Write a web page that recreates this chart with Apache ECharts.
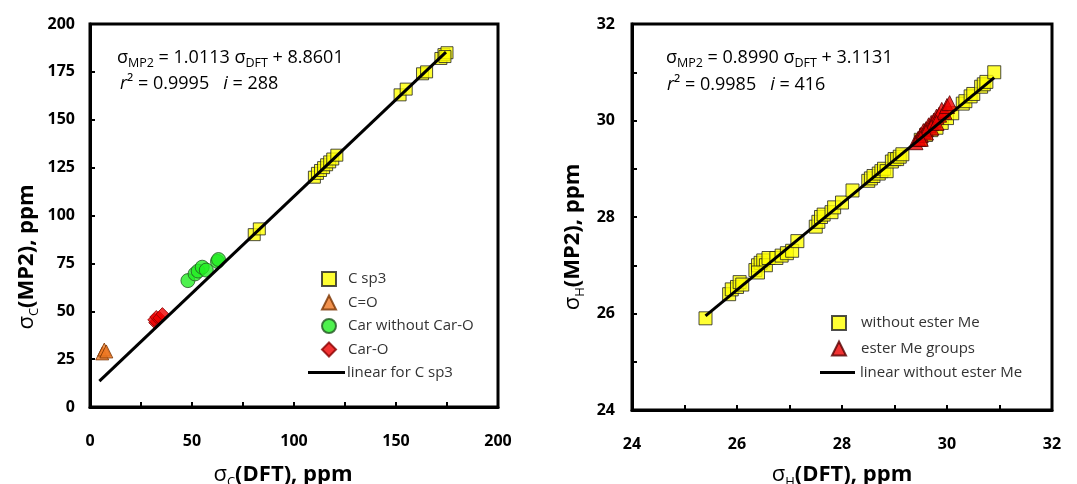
<!DOCTYPE html>
<html>
<head>
<meta charset="utf-8">
<script src="https://cdn.jsdelivr.net/npm/echarts@6/dist/echarts.min.js"></script>
<style>
  body { margin: 0; padding: 0; background: #fff; }
  #chart { width: 1077px; height: 484px; }
</style>
</head>
<body>
<div id="chart"></div>
<script>
// left panel: carbon shieldings, [DFT, MP2] in ppm
var cSp3 = [[80.5,90],[83,93],[110,120],[111.5,122],[113,123.5],[114.5,125],[116,126.5],[117.5,128],[119,129.5],[121,131.5],
  [152,163],[155,166],[163,174],[165,175],[172,182],[173.5,184],[175,185],[174,183]];
var cCO = [[6,28],[7,30],[8,29]];
var cArNoO = [[48,66],[51.5,69.5],[53,71],[55,73],[57,71.5],[62.5,76],[63,77]];
var cArO = [[32,44],[31.5,45.5],[32.5,47],[34,46.5],[35.5,48.5]];
var cFit = [[4.6,13.5],[174.5,185.3]];

// right panel: proton shieldings, [DFT, MP2] in ppm
var hNoEster = [[25.4,25.9],[25.85,26.4],[25.9,26.5],[26.0,26.55],[26.05,26.65],[26.1,26.6],
  [26.35,26.9],[26.4,27.0],[26.45,27.05],[26.5,27.1],[26.55,27.0],[26.6,27.15],[26.4,26.85],
  [26.75,27.15],[26.85,27.2],[26.95,27.25],[27.05,27.3],[27.15,27.5],[27.5,27.8],[27.55,27.9],
  [27.6,28.0],[27.65,28.05],[27.8,28.1],[27.85,28.2],[28.0,28.3],[28.2,28.55],[28.5,28.75],
  [28.55,28.8],[28.6,28.85],[28.7,28.9],[28.75,28.95],[28.8,29.0],[28.85,28.95],[28.95,29.15],
  [29.0,29.2],[29.05,29.2],[29.1,29.25],[29.15,29.3],[29.5,29.6],[29.6,29.7],[29.7,29.8],
  [29.8,29.85],[29.9,29.95],[30.0,30.05],[30.1,30.15],[30.3,30.35],[30.35,30.4],[30.45,30.5],
  [30.5,30.55],[30.65,30.7],[30.7,30.75],[30.75,30.8],[30.9,31.0]];
var hEster = [[29.4,29.55],[29.45,29.62],[29.5,29.7],[29.55,29.78],[29.6,29.82],[29.65,29.9],
  [29.7,29.95],[29.75,30.0],[29.8,30.08],[29.85,30.12],[29.9,30.22],[29.95,30.18],[30.0,30.3],
  [30.05,30.36],[29.7,29.85],[29.6,29.75],[29.8,29.95],[29.5,29.62]];
var hFit = [[25.4,25.95],[30.9,30.89]];

var fam = '"Open Sans", "Noto Sans", sans-serif';

function axisCommon(min, max, interval, minor) {
  return {
    type: 'value', min: min, max: max, interval: interval,
    axisLine: { lineStyle: { color: '#000', width: 3 } },
    axisTick: { inside: true, length: 5, lineStyle: { color: '#000', width: 2 } },
    minorTick: { show: minor, splitNumber: 2, length: 5, lineStyle: { color: '#000', width: 2 } },
    splitLine: { show: false },
    minorSplitLine: { show: false },
    axisLabel: { color: '#000', fontSize: 16, fontWeight: 'bold', fontFamily: fam }
  };
}

var nameRich = {
  s: { fontSize: 22, fontFamily: fam, color: '#000', lineHeight: 28 },
  sub: { fontSize: 13, fontFamily: fam, color: '#000', verticalAlign: 'bottom', lineHeight: 28 },
  n: { fontSize: 22, fontWeight: 'bold', fontFamily: fam, color: '#000', lineHeight: 28 }
};
var noteRich = {
  n: { fontSize: 18, fontFamily: fam, color: '#222', lineHeight: 24 },
  it: { fontSize: 18, fontFamily: fam, color: '#222', fontStyle: 'italic', lineHeight: 24 },
  sub: { fontSize: 12.5, fontFamily: fam, color: '#222', verticalAlign: 'bottom', lineHeight: 24 }
};

var x0 = axisCommon(0, 200, 50, true);
x0.gridIndex = 0; x0.axisLabel.margin = 26;
x0.name = '{s|σ}{sub|C}{n|(DFT), ppm}'; x0.nameLocation = 'middle'; x0.nameGap = 54;
x0.nameTextStyle = { rich: nameRich, padding: [0, 22, 0, 0] };
var y0 = axisCommon(0, 200, 25, false);
y0.gridIndex = 0; y0.axisLabel.margin = 15;
var x1 = axisCommon(24, 32, 2, true);
x1.gridIndex = 1; x1.axisLabel.margin = 26;
x1.name = '{s|σ}{sub|H}{n|(DFT), ppm}'; x1.nameLocation = 'middle'; x1.nameGap = 51;
x1.nameTextStyle = { rich: nameRich };
var y1 = axisCommon(24, 32, 2, true);
y1.gridIndex = 1; y1.axisLabel.margin = 17;

var legText = { fontSize: 15, fontFamily: fam, color: '#333' };

var chart = echarts.init(document.getElementById('chart'));
var option = {
  animation: false,
  backgroundColor: '#fff',
  grid: [
    { left: 90, top: 24, width: 408, height: 383, show: true, borderColor: '#000', borderWidth: 3, outerBoundsMode: 'none', containLabel: false },
    { left: 632, top: 24, width: 420, height: 386, show: true, borderColor: '#000', borderWidth: 3, outerBoundsMode: 'none', containLabel: false }
  ],
  xAxis: [x0, x1],
  yAxis: [y0, y1],
  legend: [
    {
      orient: 'vertical', left: 321, top: 271, padding: 0, itemWidth: 14, itemHeight: 14, itemGap: 7.5,
      textStyle: Object.assign({ padding: [0, 0, 0, 7] }, legText),
      data: ['C sp3', 'C=O', 'Car without Car-O', 'Car-O']
    },
    {
      orient: 'vertical', left: 308, top: 365, padding: 0, itemWidth: 37, itemHeight: 3,
      textStyle: Object.assign({ padding: [0, 0, 0, -3] }, legText),
      data: [{ name: 'linear for C sp3', icon: 'rect' }]
    },
    {
      orient: 'vertical', left: 831, top: 315, padding: 0, itemWidth: 14, itemHeight: 14, itemGap: 9.5,
      textStyle: Object.assign({ padding: [0, 0, 0, 10] }, legText),
      data: ['without ester Me', 'ester Me groups']
    },
    {
      orient: 'vertical', left: 820, top: 365, padding: 0, itemWidth: 35, itemHeight: 3,
      textStyle: Object.assign({ padding: [0, 0, 0, 0] }, legText),
      data: [{ name: 'linear without ester Me', icon: 'rect' }]
    }
  ],
  graphic: [
    { type: 'text', left: 117, top: 49, style: { text: '{n|σ}{sub|MP2}{n| = 1.0113 σ}{sub|DFT}{n| + 8.8601}', rich: noteRich } },
    { type: 'text', left: 120, top: 75, style: { text: '{it|r}{n|² = 0.9995   }{it|i}{n| = 288}', rich: noteRich } },
    { type: 'text', left: 666, top: 49, style: { text: '{n|σ}{sub|MP2}{n| = 0.8990 σ}{sub|DFT}{n| + 3.1131}', rich: noteRich } },
    { type: 'text', left: 667, top: 76, style: { text: '{it|r}{n|² = 0.9985   }{it|i}{n| = 416}', rich: noteRich } },
    { type: 'text', x: 27, y: 257, rotation: Math.PI / 2,
      style: { text: '{s|σ}{sub|C}{n|(MP2), ppm}', rich: nameRich, align: 'center', verticalAlign: 'middle' } },
    { type: 'text', x: 573, y: 237, rotation: Math.PI / 2,
      style: { text: '{s|σ}{sub|H}{n|(MP2), ppm}', rich: nameRich, align: 'center', verticalAlign: 'middle' } }
  ],
  series: [
    { name: 'C sp3', type: 'scatter', xAxisIndex: 0, yAxisIndex: 0, symbol: 'rect', symbolSize: 12,
      itemStyle: { color: '#FFFF00', borderColor: '#222', borderWidth: 1 }, data: cSp3 },
    { name: 'C=O', type: 'scatter', xAxisIndex: 0, yAxisIndex: 0, symbol: 'triangle', symbolSize: 13,
      itemStyle: { color: '#EE7722', borderColor: '#7a3300', borderWidth: 1 }, data: cCO },
    { name: 'Car without Car-O', type: 'scatter', xAxisIndex: 0, yAxisIndex: 0, symbol: 'circle', symbolSize: 14,
      itemStyle: { color: '#22EE22', borderColor: '#225522', borderWidth: 1 }, data: cArNoO },
    { name: 'Car-O', type: 'scatter', xAxisIndex: 0, yAxisIndex: 0, symbol: 'diamond', symbolSize: 13,
      itemStyle: { color: '#EE0000', borderColor: '#880000', borderWidth: 1 }, data: cArO },
    { name: 'linear for C sp3', type: 'line', xAxisIndex: 0, yAxisIndex: 0, symbol: 'none',
      lineStyle: { color: '#000', width: 3 }, itemStyle: { color: '#000' }, data: cFit },

    { name: 'without ester Me', type: 'scatter', xAxisIndex: 1, yAxisIndex: 1, symbol: 'rect', symbolSize: 13,
      itemStyle: { color: '#FFFF00', borderColor: '#222', borderWidth: 1 }, data: hNoEster },
    { name: 'ester Me groups', type: 'scatter', xAxisIndex: 1, yAxisIndex: 1, symbol: 'triangle', symbolSize: 15,
      itemStyle: { color: '#EE0000', borderColor: '#550000', borderWidth: 1 }, data: hEster },
    { name: 'linear without ester Me', type: 'line', xAxisIndex: 1, yAxisIndex: 1, symbol: 'none',
      lineStyle: { color: '#000', width: 3 }, itemStyle: { color: '#000' }, data: hFit }
  ]
};
chart.setOption(option);
</script>
</body>
</html>
